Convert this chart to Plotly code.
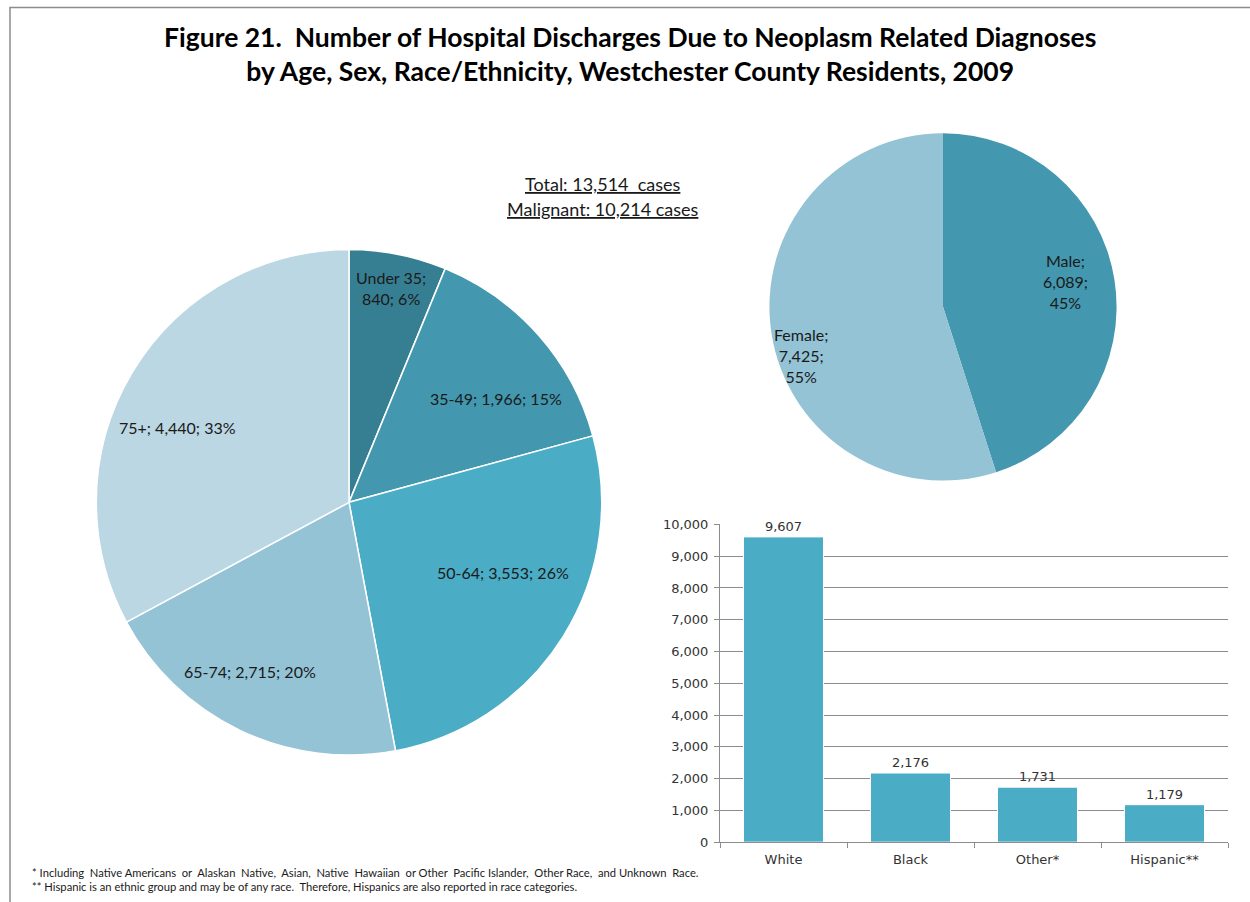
import math
import plotly.graph_objects as go

# ---------------- data ----------------
age_labels = ["Under 35", "35-49", "50-64", "65-74", "75+"]
age_values = [840, 1966, 3553, 2715, 4440]

sex_labels = ["Male", "Female"]
sex_values = [6089, 7425]

race_labels = ["White", "Black", "Other*", "Hispanic**"]
race_values = [9607, 2176, 1731, 1179]

title_text = ("<b>Figure 21.  Number of Hospital Discharges Due to Neoplasm Related Diagnoses<br>"
              "by Age, Sex, Race/Ethnicity, Westchester County Residents, 2009</b>")
total_lines = ["Total: 13,514  cases", "Malignant: 10,214 cases"]
footnotes = [
    "* Including  Native Americans  or  Alaskan  Native,  Asian,  Native  Hawaiian  or Other  Pacific Islander,  Other Race,  and Unknown  Race.",
    "** Hispanic is an ethnic group and may be of any race.  Therefore, Hispanics are also reported in race categories.",
]

# ---------------- style ----------------
W, H = 1250, 902
age_colors = ["#367F93", "#4397AE", "#4BACC6", "#93C3D5", "#BAD7E3"]
sex_colors = ["#4397AE", "#93C3D5"]
bar_color = "#4BACC6"
label_font = "Lato"
axis_font = "DejaVu Sans"

# vertical placement correction (target pixel row -> page pixel row)
Y_OFF, Y_SCALE = 7.85, 0.981


def py(y):
    return 1 - ((y - Y_OFF) / Y_SCALE) / H


def px(x):
    return x / W


# pie geometry (pixels)
age_c, age_r = (349, 502), 257
sex_c, sex_r = (943, 307), 176.5
# label placement tweaks (degrees shift from slice mid-angle, radial fraction)
age_shift = [0, 6.4, -7.6, 4.8, -7.3]
age_frac = [0.85, 0.70, 0.66, 0.76, 0.73]
sex_shift = [-2.6, -10]
sex_frac = [0.71, 0.85]


def dom(c, r):
    yc = (c[1] - Y_OFF) / Y_SCALE
    return dict(x=[(c[0] - r) / W, (c[0] + r) / W],
                y=[1 - (yc + r) / H, 1 - (yc - r) / H])


def pie_label_annotations(labels, values, c, r, shifts, fracs, breaks):
    total = sum(values)
    anns = []
    cum = 0
    for lab, v, sh, fr in zip(labels, values, shifts, fracs):
        mid = (cum + v / 2) / total * 360 + sh
        cum += v
        lx = c[0] + fr * r * math.sin(math.radians(mid))
        ly = c[1] - fr * r * math.cos(math.radians(mid))
        pct = f"{round(v / total * 100)}%"
        parts = [lab + ";", f"{v:,};", pct]
        txt = ""
        for i, p in enumerate(parts):
            txt += p
            if i < len(parts) - 1:
                txt += "<br>" if i in breaks else " "
        anns.append(dict(x=px(lx), y=py(ly), xref="paper", yref="paper",
                         xanchor="center", yanchor="middle",
                         text=txt, showarrow=False, align="center",
                         font=dict(family=label_font, size=16, color="#1a1a1a")))
    return anns


fig = go.Figure()

fig.add_trace(go.Pie(
    labels=age_labels, values=age_values, sort=False, direction="clockwise",
    rotation=0, textinfo="none", hoverinfo="label+value+percent",
    marker=dict(colors=age_colors, line=dict(color="white", width=1.5)),
    domain=dom(age_c, age_r), showlegend=False,
))

fig.add_trace(go.Pie(
    labels=sex_labels, values=sex_values, sort=False, direction="clockwise",
    rotation=0, textinfo="none", hoverinfo="label+value+percent",
    marker=dict(colors=sex_colors, line=dict(width=0)),
    domain=dom(sex_c, sex_r), showlegend=False,
))

fig.add_trace(go.Bar(
    x=race_labels, y=race_values, marker=dict(color=bar_color, line=dict(color="white", width=1)),
    text=[f"{v:,}" for v in race_values], textposition="outside",
    textfont=dict(family=axis_font, size=13, color="#333333"),
    cliponaxis=False, width=0.63, showlegend=False,
    xaxis="x", yaxis="y",
))

anns = []
anns += pie_label_annotations(age_labels, age_values, age_c, age_r, age_shift, age_frac, breaks={0})
# Age labels: first one on two lines, the others single-line
for i, a in enumerate(anns):
    if i > 0:
        a["text"] = a["text"].replace("<br>", " ")
anns += pie_label_annotations(sex_labels, sex_values, sex_c, sex_r, sex_shift, sex_frac, breaks={0, 1})

anns.append(dict(x=px(630), y=py(55), xref="paper", yref="paper", text=title_text,
                 xanchor="center", yanchor="middle",
                 showarrow=False, align="center",
                 font=dict(family=label_font, size=26.5, color="#000000")))
for i, t in enumerate(total_lines):
    anns.append(dict(x=px(603), y=py(184 + 25 * i), xref="paper", yref="paper", text=t,
                     xanchor="center", yanchor="middle",
                     showarrow=False, align="center",
                     font=dict(family=label_font, size=18, color="#1a1a1a", lineposition="under")))
for i, t in enumerate(footnotes):
    anns.append(dict(x=px(30), y=py(871 + 14 * i), xref="paper", yref="paper", text=t,
                     showarrow=False, xanchor="left", yanchor="middle", align="left",
                     font=dict(family=label_font, size=11.2, color="#1a1a1a")))

fig.update_layout(
    width=W, height=H, margin=dict(l=0, r=0, t=0, b=0),
    paper_bgcolor="white", plot_bgcolor="white",
    annotations=anns,
    xaxis=dict(domain=[px(720), px(1228)], anchor="y", showgrid=False,
               showline=True, linecolor="#8c8c8c", linewidth=1,
               ticks="outside", tickson="boundaries", ticklen=5, tickcolor="#8c8c8c",
               ticklabelstandoff=5,
               tickfont=dict(family=axis_font, size=13, color="#333333")),
    yaxis=dict(domain=[py(841), py(524)], anchor="x", range=[0, 10000],
               dtick=1000, tickformat=",d", showgrid=True, gridcolor="#8c8c8c",
               gridwidth=1, showline=True, linecolor="#8c8c8c", linewidth=1,
               ticks="outside", ticklen=5, tickcolor="#8c8c8c", zeroline=False,
               ticklabelstandoff=3,
               tickfont=dict(family=axis_font, size=13, color="#333333")),
    shapes=[dict(type="rect", xref="paper", yref="paper",
                 x0=px(10), x1=1.05, y0=-0.05, y1=min(py(4.5), 0.9995),
                 line=dict(color="#8c8c8c", width=1.5), fillcolor="rgba(0,0,0,0)")],
)

post = (
    "var s=document.createElement('style');"
    "s.innerHTML='html,body{margin:0!important;padding:0!important;overflow:hidden!important;}';"
    "document.head.appendChild(s);"
    "var d=document.getElementById('{plot_id}');"
    "d.style.position='fixed';d.style.top='0px';d.style.left='0px';"
)
fig.write_html("out.html", config={"displayModeBar": False}, post_script=post)
